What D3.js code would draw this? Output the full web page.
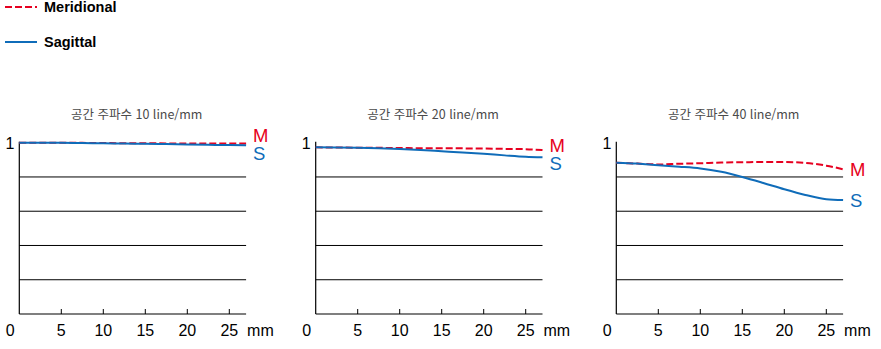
<!DOCTYPE html>
<html lang="ko">
    <head>
        <meta charset="utf-8">
        <title>MTF</title>
        <style type="text/css">
            body { margin: 0; background: #fff; }
            svg text { font-family: "Liberation Sans", Arial, sans-serif; }
        </style>
    </head>
    <body>

<script src="https://d3js.org/d3.v7.min.js"></script>

<script>

    var w = 881;
    var h = 349;

    // image height in mm
    var mm = [0, 2.5, 5, 7.5, 10, 12.5, 15, 17.5, 20, 22.5, 25, 27];

    var titles = ["공간 주파수 10 line/mm", "공간 주파수 20 line/mm", "공간 주파수 40 line/mm"];

    var meridional10 = [1.0, 1.0, 1.0, 0.999, 0.998, 0.997, 0.997, 0.996, 0.996, 0.995, 0.995, 0.995];
    var sagittal10   = [1.0, 1.0, 1.0, 0.998, 0.997, 0.995, 0.994, 0.992, 0.990, 0.988, 0.986, 0.985];

    var meridional20 = [0.973, 0.972, 0.971, 0.970, 0.969, 0.968, 0.968, 0.967, 0.966, 0.964, 0.962, 0.957];
    var sagittal20   = [0.973, 0.972, 0.970, 0.967, 0.963, 0.957, 0.950, 0.943, 0.935, 0.926, 0.918, 0.915];

    var meridional40 = [0.883, 0.878, 0.873, 0.877, 0.880, 0.884, 0.886, 0.887, 0.887, 0.882, 0.866, 0.845];
    var sagittal40   = [0.883, 0.878, 0.868, 0.860, 0.850, 0.830, 0.800, 0.765, 0.728, 0.695, 0.670, 0.665];

    var xTicks = [0, 5, 10, 15, 20, 25];
    var yGrid = [0.2, 0.4, 0.6, 0.8];

    var panels = [
        {title: titles[0], m: meridional10, s: sagittal10},
        {title: titles[1], m: meridional20, s: sagittal20},
        {title: titles[2], m: meridional40, s: sagittal40}
    ];
    var panelX = [19.3, 315.7, 616.3];

    var red = "#e60020";
    var blue = "#0f6cb9";

    var svg = d3.select("body")
            .append("svg")
            .attr("width", w)
            .attr("height", h);

    //legend
    var legend = svg.append("g");
    legend.append("line")
        .attr("x1", 5).attr("x2", 37).attr("y1", 7).attr("y2", 7)
        .attr("stroke", red).attr("stroke-width", 2).attr("stroke-dasharray", "7,3");
    legend.append("line")
        .attr("x1", 5).attr("x2", 37).attr("y1", 42).attr("y2", 42)
        .attr("stroke", blue).attr("stroke-width", 2);
    legend.append("text")
        .attr("x", 44).attr("y", 12).attr("font-size", 14.5).attr("font-weight", "bold")
        .text("Meridional");
    legend.append("text")
        .attr("x", 44).attr("y", 47).attr("font-size", 14.5).attr("font-weight", "bold")
        .text("Sagittal");

    var y = d3.scaleLinear().domain([0, 1]).range([314, 142.7]);

    panels.forEach(function(p, i) {

        var x = d3.scaleLinear().domain([0, 27]).range([panelX[i], panelX[i] + 27 * 8.4]);
        var g = svg.append("g");

        //title
        g.append("text")
            .attr("x", (x(0) + x(27)) / 2 + 4)
            .attr("y", 119)
            .attr("text-anchor", "middle")
            .attr("font-size", 12.5)
            .attr("fill", "#4a4a4a")
            .style("font-family", "'Noto Sans CJK KR', 'Liberation Sans', sans-serif")
            .text(p.title);

        //grid lines
        g.selectAll("line.grid")
            .data(yGrid)
            .enter()
            .append("line")
            .attr("class", "grid")
            .attr("x1", x(0)).attr("x2", x(27))
            .attr("y1", function(d) { return y(d); })
            .attr("y2", function(d) { return y(d); })
            .attr("stroke", "#000").attr("stroke-width", 1);

        //axes
        g.append("line")
            .attr("x1", x(0)).attr("x2", x(27)).attr("y1", y(0)).attr("y2", y(0))
            .attr("stroke", "#000").attr("stroke-width", 1.2);
        g.append("line")
            .attr("x1", x(0)).attr("x2", x(0)).attr("y1", y(0)).attr("y2", y(1) - 1)
            .attr("stroke", "#000").attr("stroke-width", 1.2);

        //ticks
        g.selectAll("line.tick")
            .data(xTicks.slice(1))
            .enter()
            .append("line")
            .attr("class", "tick")
            .attr("x1", function(d) { return x(d); })
            .attr("x2", function(d) { return x(d); })
            .attr("y1", y(0)).attr("y2", y(0) - 5)
            .attr("stroke", "#000").attr("stroke-width", 1);

        g.selectAll("text.tick")
            .data(xTicks)
            .enter()
            .append("text")
            .attr("class", "tick")
            .attr("x", function(d) { return d == 0 ? x(d) - 9 : x(d); })
            .attr("y", 336)
            .attr("text-anchor", "middle")
            .attr("font-size", 16)
            .text(function(d) { return d; });

        g.append("text")
            .attr("x", x(27) + 1).attr("y", 336)
            .attr("font-size", 16)
            .text("mm");

        g.append("text")
            .attr("x", x(0) - 5).attr("y", y(1) + 6)
            .attr("text-anchor", "end")
            .attr("font-size", 16)
            .text("1");

        //curves
        var line = d3.line()
            .x(function(d, j) { return x(mm[j]); })
            .y(function(d) { return y(d); })
            .curve(d3.curveMonotoneX);

        g.append("path")
            .attr("d", line(p.m))
            .attr("fill", "none")
            .attr("stroke", red)
            .attr("stroke-width", 2)
            .attr("stroke-dasharray", "7,3");

        g.append("path")
            .attr("d", line(p.s))
            .attr("fill", "none")
            .attr("stroke", blue)
            .attr("stroke-width", 2);

        //end labels, pushed apart when they would overlap
        var my = y(p.m[p.m.length - 1]);
        var sy = y(p.s[p.s.length - 1]);
        if (sy - my < 18) {
            var mid = (my + sy) / 2;
            my = mid - 9;
            sy = mid + 9;
        }
        g.append("text")
            .attr("x", x(27) + 7).attr("y", my + 7)
            .attr("font-size", 18.5)
            .attr("fill", red)
            .text("M");
        g.append("text")
            .attr("x", x(27) + 7).attr("y", sy + 7)
            .attr("font-size", 18.5)
            .attr("fill", blue)
            .text("S");
    });

</script>

    </body>
</html>
